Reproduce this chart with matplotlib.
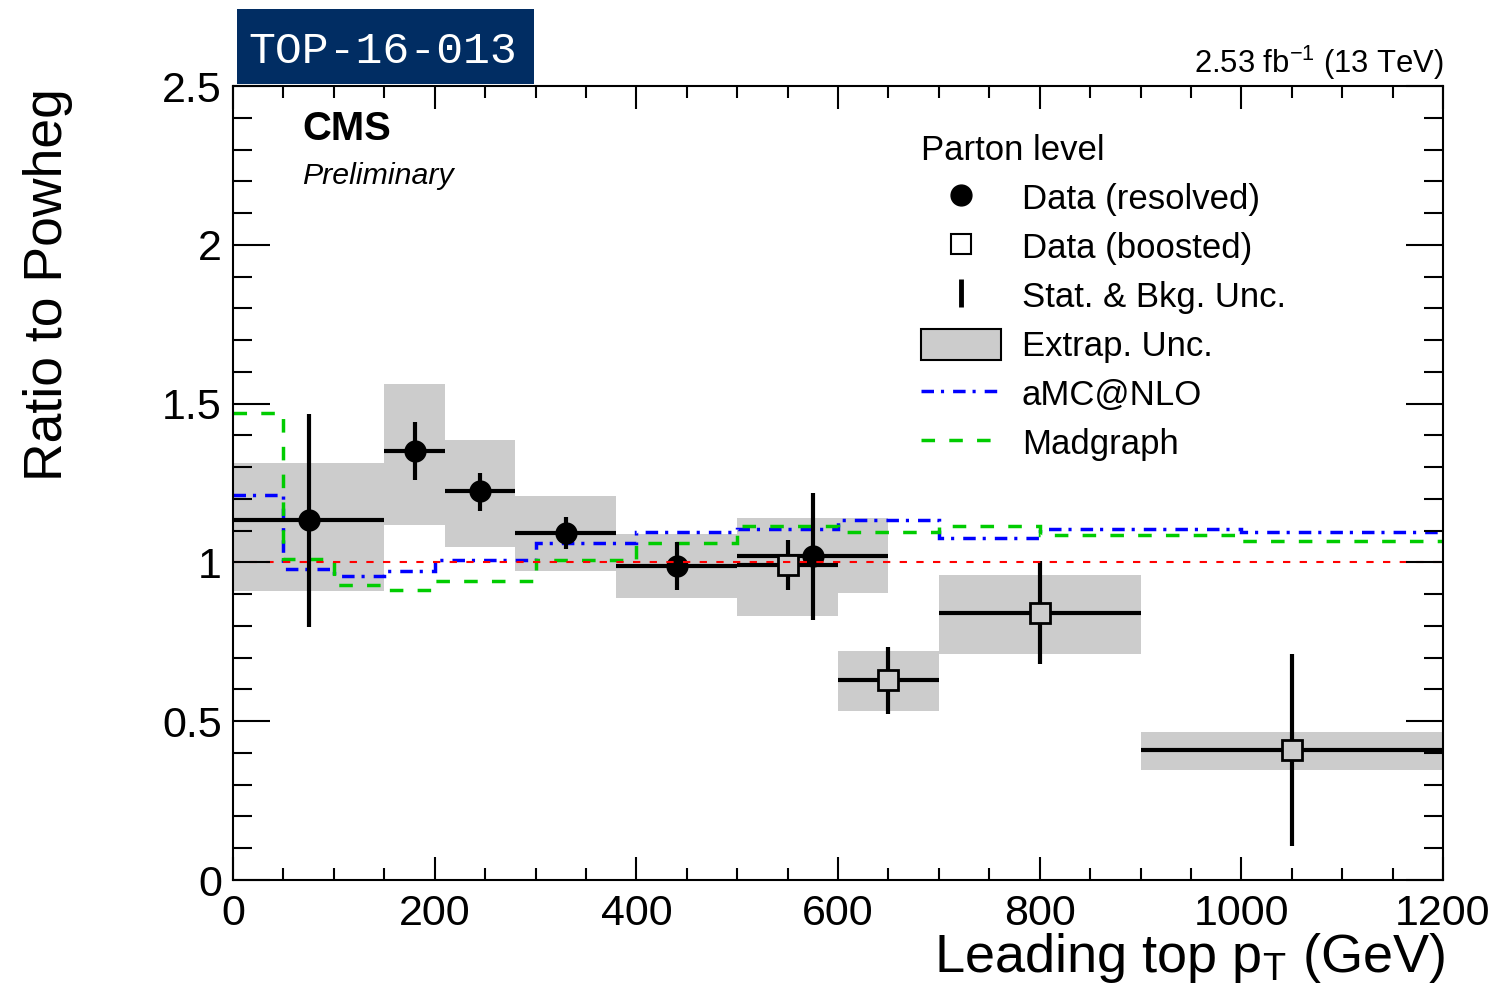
import matplotlib
matplotlib.use("Agg")
import numpy as np
import matplotlib.pyplot as plt
from matplotlib.lines import Line2D
from matplotlib.patches import Patch, Rectangle
from matplotlib.ticker import MultipleLocator, FuncFormatter

plt.rcParams['font.family'] = ['Liberation Sans', 'DejaVu Sans']
plt.rcParams['mathtext.fontset'] = 'custom'
plt.rcParams['mathtext.rm'] = 'Liberation Sans'
plt.rcParams['mathtext.it'] = 'Liberation Sans:italic'
plt.rcParams['mathtext.bf'] = 'Liberation Sans:bold'

# ---- resolved analysis (parton level, ratio to Powheg) ----
res_edges = [0, 150, 210, 280, 380, 500, 650]
res_x = [75, 180, 245, 330, 440, 575]
res_ratio = [1.133, 1.352, 1.225, 1.092, 0.989, 1.020]
res_stat_lo = [0.797, 1.261, 1.162, 1.042, 0.913, 0.819]
res_stat_hi = [1.467, 1.443, 1.283, 1.143, 1.063, 1.218]
res_extrap_lo = [0.911, 1.118, 1.049, 0.973, 0.887, 0.905]
res_extrap_hi = [1.313, 1.561, 1.385, 1.210, 1.089, 1.139]

# ---- boosted analysis ----
bst_edges = [500, 600, 700, 900, 1200]
bst_x = [550, 650, 800, 1050]
bst_ratio = [0.992, 0.630, 0.840, 0.408]
bst_stat_lo = [0.913, 0.523, 0.679, 0.107]
bst_stat_hi = [1.071, 0.735, 1.004, 0.711]
bst_extrap_lo = [0.832, 0.533, 0.712, 0.346]
bst_extrap_hi = [1.130, 0.721, 0.961, 0.467]

# ---- generator predictions ----
mc_edges = [0, 50, 100, 150, 200, 300, 400, 500, 600, 700, 800, 1000, 1200]
amcnlo = [1.212, 0.980, 0.957, 0.972, 1.007, 1.060, 1.096, 1.105, 1.134, 1.076, 1.104, 1.097]
madgraph = [1.471, 1.012, 0.930, 0.913, 0.943, 1.008, 1.060, 1.116, 1.097, 1.115, 1.086, 1.068]

GRAY = '#cccccc'
GREEN = '#00cc00'
MC_LW = 2.5
amc_ls = (0, (3.6, 2.0, 0.9, 2.6))
mg_ls = (0, (3.9, 4.1))

W, H = 1499, 998
fig = plt.figure(figsize=(W / 100, H / 100), dpi=100)
ax = fig.add_axes([233 / W, 118 / H, 1210 / W, 794 / H])


def extrap_boxes(edges, lo, hi):
    edges = np.asarray(edges, float)
    lo = np.asarray(lo, float)
    hi = np.asarray(hi, float)
    ax.bar(edges[:-1], hi - lo, width=np.diff(edges), bottom=lo, align='edge',
           color=GRAY, lw=0, zorder=1)


def data_points(x, edges, y, lo, hi, marker, mfc, ms, mew):
    x = np.asarray(x, float)
    y = np.asarray(y, float)
    edges = np.asarray(edges, float)
    ax.errorbar(x, y, xerr=[x - edges[:-1], edges[1:] - x],
                yerr=[y - np.asarray(lo), np.asarray(hi) - y],
                fmt='none', ecolor='k', elinewidth=3, capsize=0, zorder=4)
    ax.plot(x, y, ls='none', marker=marker, ms=ms, mfc=mfc, mec='k', mew=mew, zorder=5)


extrap_boxes(bst_edges, bst_extrap_lo, bst_extrap_hi)
extrap_boxes(res_edges, res_extrap_lo, res_extrap_hi)

ax.stairs(amcnlo, mc_edges, baseline=None, color='blue', lw=MC_LW, ls=amc_ls, zorder=2)
ax.stairs(madgraph, mc_edges, baseline=None, color=GREEN, lw=MC_LW, ls=mg_ls, zorder=2)

data_points(res_x, res_edges, res_ratio, res_stat_lo, res_stat_hi, 'o', 'k', 15, 1)
data_points(bst_x, bst_edges, bst_ratio, bst_stat_lo, bst_stat_hi, 's', GRAY, 14, 2)

ax.axhline(1.0, color='red', lw=1.5, ls=(0, (3.5, 4.5)), zorder=6)

ax.set_xlim(0, 1200)
ax.set_ylim(0, 2.5)
ax.xaxis.set_major_locator(MultipleLocator(200))
ax.xaxis.set_minor_locator(MultipleLocator(50))
ax.yaxis.set_major_locator(MultipleLocator(0.5))
ax.yaxis.set_minor_locator(MultipleLocator(0.1))
fmt = FuncFormatter(lambda v, p: '%g' % v)
ax.xaxis.set_major_formatter(fmt)
ax.yaxis.set_major_formatter(fmt)

ax.tick_params(which='both', direction='in', top=True, right=True, width=1.5, color='k')
ax.tick_params(axis='y', which='major', length=26.5, labelsize=31, pad=8)
ax.tick_params(axis='y', which='minor', length=13.5)
ax.tick_params(axis='x', which='major', length=16.5, labelsize=31, pad=10)
ax.tick_params(axis='x', which='minor', length=8.5)
for s in ax.spines.values():
    s.set_linewidth(1.5)
    s.set_zorder(10)
ax.xaxis.set_zorder(10)
ax.yaxis.set_zorder(10)

# axis titles, ROOT style (aligned to the end of each axis)
fig.text(48.5 / W, (H - 88) / H, 'Ratio to Powheg', rotation=90, ha='center', va='top',
         fontsize=38.5)
fig.text(1445 / W, (H - 972) / H, r'Leading top p$_{\mathrm{T}}$ (GeV)', ha='right',
         va='baseline', fontsize=39)

# labels inside / above the frame
fig.text(302 / W, (H - 140) / H, 'CMS', fontsize=28.8, fontweight='bold', va='baseline')
fig.text(302 / W, (H - 184) / H, 'Preliminary', fontsize=21.8, style='italic', va='baseline')
fig.text(1444 / W, (H - 73) / H, r'2.53 fb$^{\mathregular{-1}}$ (13 TeV)', ha='right',
         va='baseline', fontsize=22.3)

fig.add_artist(Rectangle((237 / W, (H - 84) / H), 297 / W, 75 / H, transform=fig.transFigure,
                         facecolor='#012d63', edgecolor='none'))
fig.text(248 / W, (H - 63) / H, 'TOP-16-013', family='Liberation Mono', fontsize=32.3,
         color='white', va='baseline')

handles = [
    Line2D([], [], ls='none', marker='o', ms=15, color='k'),
    Line2D([], [], ls='none', marker='s', ms=14, mfc='white', mec='k', mew=1.5),
    Line2D([], [], ls='none', marker='|', ms=20, mew=3.5, color='k'),
    Patch(facecolor=GRAY, edgecolor='k', lw=1.5),
    Line2D([], [], color='blue', lw=MC_LW, ls=amc_ls),
    Line2D([], [], color=GREEN, lw=MC_LW, ls=mg_ls),
]
labels = ['Data (resolved)', 'Data (boosted)', 'Stat. & Bkg. Unc.', 'Extrap. Unc.',
          'aMC@NLO', 'Madgraph']
ax.legend(handles, labels, title='Parton level', alignment='left', loc='upper left',
          bbox_to_anchor=(921 / W, (H - 134) / H), bbox_transform=fig.transFigure,
          frameon=False, fontsize=25, title_fontsize=25, handlelength=2.3,
          handleheight=1.0, handletextpad=0.6, labelspacing=0.42, borderpad=0,
          borderaxespad=0)

fig.savefig('out.png', dpi=100)
